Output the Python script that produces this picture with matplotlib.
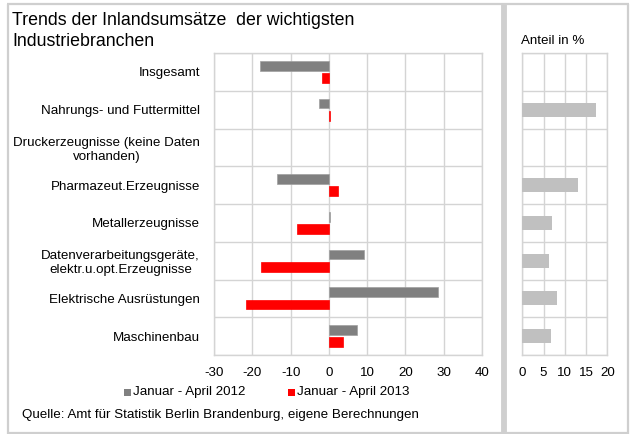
import matplotlib
matplotlib.use("Agg")
import matplotlib.pyplot as plt
from matplotlib.patches import Rectangle
from matplotlib.lines import Line2D
import numpy as np

plt.rcParams['font.family'] = ['Liberation Sans', 'DejaVu Sans']

categories = [
    "Insgesamt",
    "Nahrungs- und Futtermittel",
    "Druckerzeugnisse (keine Daten\nvorhanden)",
    "Pharmazeut.Erzeugnisse",
    "Metallerzeugnisse",
    "Datenverarbeitungsgeräte,\nelektr.u.opt.Erzeugnisse",
    "Elektrische Ausrüstungen",
    "Maschinenbau",
]
series_2012 = [-18.1, -2.5, np.nan, -13.6, 0.3, 9.2, 28.5, 7.4]
series_2013 = [-1.9, 0.35, np.nan, 2.4, -8.4, -17.7, -21.6, 3.6]
anteil = [np.nan, 17.3, np.nan, 13.0, 7.1, 6.3, 8.2, 6.8]

left_ticks = [-30, -20, -10, 0, 10, 20, 30, 40]
right_ticks = [0, 5, 10, 15, 20]

W, H = 631, 434
fig = plt.figure(figsize=(W / 100, H / 100), dpi=100)
fig.patch.set_facecolor('white')

def fx(px):
    return px / W

def fy(py):
    return 1 - py / H

grid_c = '#d4d4d4'
frame_c = '#cfcfcf'
fs = 9.6

# left axes
ax = fig.add_axes([fx(214), fy(355), fx(482) - fx(214), fy(53) - fy(355)])
n = len(categories)
y = np.arange(n)
off = 0.16
h = 0.26
ax.barh(y - off, series_2012, height=h, color='#808080', edgecolor='#a0a0a0', linewidth=0.5, zorder=3)
ax.barh(y + off, series_2013, height=h, color='#ff0000', edgecolor='#ff0000', linewidth=0.5, zorder=3)
ax.set_xlim(-30, 40)
ax.set_ylim(n - 0.5, -0.5)
ax.set_xticks(left_ticks)
ax.set_xticklabels([str(t) for t in left_ticks], fontsize=fs)
ax.set_yticks(y)
ax.set_yticklabels(categories, fontsize=fs, multialignment='center')
ax.set_yticks(np.arange(-0.5, n, 1), minor=True)
ax.tick_params(axis='both', which='both', length=0)
ax.tick_params(axis='y', which='major', pad=10)
ax.tick_params(axis='x', which='major', pad=9)
ax.grid(True, axis='x', which='major', color=grid_c, linewidth=1, zorder=0)
ax.grid(True, axis='y', which='minor', color=grid_c, linewidth=1, zorder=0)
ax.grid(False, axis='y', which='major')
for s in ax.spines.values():
    s.set_color(grid_c)
    s.set_linewidth(1)

# right axes
ax2 = fig.add_axes([fx(522.3), fy(355), fx(607.3) - fx(522.3), fy(53) - fy(355)])
ax2.barh(y, anteil, height=0.37, color='#c0c0c0', zorder=3)
ax2.set_xlim(0, 20)
ax2.set_ylim(n - 0.5, -0.5)
ax2.set_xticks(right_ticks)
ax2.set_xticklabels([str(t) for t in right_ticks], fontsize=fs)
ax2.set_yticks([])
ax2.set_yticks(np.arange(-0.5, n, 1), minor=True)
ax2.tick_params(axis='both', which='both', length=0, labelleft=False)
ax2.tick_params(axis='x', which='major', pad=9)
ax2.grid(True, axis='x', which='major', color=grid_c, linewidth=1, zorder=0)
ax2.grid(True, axis='y', which='minor', color=grid_c, linewidth=1, zorder=0)
for s in ax2.spines.values():
    s.set_color(grid_c)
    s.set_linewidth(1)

# texts
fig.text(fx(12), fy(12), "Trends der Inlandsumsätze  der wichtigsten\nIndustriebranchen",
         fontsize=12.8, va='top', ha='left', linespacing=1.3)
fig.text(fx(521), fy(41), "Anteil in %", fontsize=fs, va='center', ha='left')
fig.text(fx(22), fy(415), "Quelle: Amt für Statistik Berlin Brandenburg, eigene Berechnungen",
         fontsize=fs, va='center', ha='left')

# legend
fig.patches.append(Rectangle((fx(124), fy(396)), 7 / W, 7 / H,
                             transform=fig.transFigure, facecolor='#808080', edgecolor='none'))
fig.text(fx(133), fy(392.5), "Januar - April 2012", fontsize=fs, va='center', ha='left')
fig.patches.append(Rectangle((fx(288), fy(396)), 7 / W, 7 / H,
                             transform=fig.transFigure, facecolor='#ff0000', edgecolor='none'))
fig.text(fx(297), fy(392.5), "Januar - April 2013", fontsize=fs, va='center', ha='left')

# frames
def hline(x0, x1, yy, lw):
    fig.add_artist(Line2D([fx(x0), fx(x1)], [fy(yy), fy(yy)], transform=fig.transFigure,
                          color=frame_c, linewidth=lw, solid_capstyle='butt'))

def vline(xx, y0, y1, lw):
    fig.add_artist(Line2D([fx(xx), fx(xx)], [fy(y0), fy(y1)], transform=fig.transFigure,
                          color=frame_c, linewidth=lw, solid_capstyle='butt'))

hline(7, 629, 4, 1.6)
hline(7, 629, 432.5, 1.6)
vline(8, 3.5, 433.5, 1.6)
vline(628, 3.5, 433.5, 1.6)
vline(504, 3.5, 433.5, 4.2)

fig.savefig("out.png", dpi=100, facecolor='white')
